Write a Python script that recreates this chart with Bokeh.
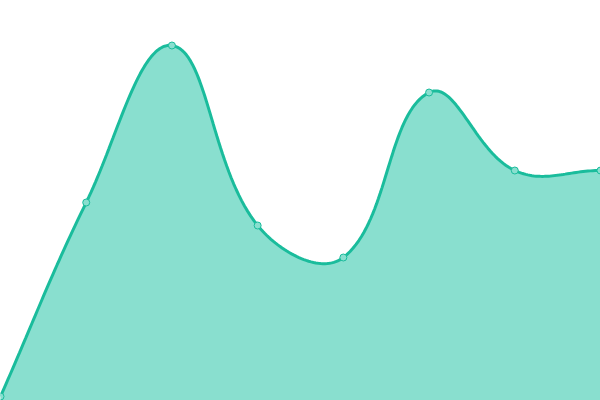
import numpy as np
from bokeh.plotting import figure
from bokeh.models import Range1d
from bokeh.embed import file_html
from bokeh.resources import INLINE

# data
xs = [0, 1, 2, 3, 4, 5, 6, 7]
values = [1.0, 49.5, 88.75, 43.75, 35.75, 77.0, 57.5, 57.5]

W, H = 600, 400
X_MIN, X_MAX = 0, 7
Y_MIN, Y_MAX = 0, 100
LINE = "#1abc9c"
FILL = "#89dfcf"

p = figure(width=W, height=H, output_backend="svg", toolbar_location=None,
           min_border=0, x_range=Range1d(X_MIN, X_MAX), y_range=Range1d(Y_MIN, Y_MAX))
p.axis.visible = False
p.grid.visible = False
p.outline_line_color = None
p.background_fill_color = "white"
p.border_fill_color = "white"

# Chart.js-style spline (tension 0.4), computed in screen-proportional units
sx = W / (X_MAX - X_MIN)
sy = H / (Y_MAX - Y_MIN)
P = np.array([[x * sx, v * sy] for x, v in zip(xs, values)])
n = len(P)
t = 0.4
cp_prev = P.copy()
cp_next = P.copy()
for i in range(n):
    prev = P[i - 1] if i > 0 else P[i]
    nxt = P[i + 1] if i < n - 1 else P[i]
    d01 = np.hypot(*(P[i] - prev))
    d12 = np.hypot(*(nxt - P[i]))
    tot = d01 + d12
    s01 = d01 / tot if tot else 0
    s12 = d12 / tot if tot else 0
    cp_prev[i] = P[i] - t * s01 * (nxt - prev)
    cp_next[i] = P[i] + t * s12 * (nxt - prev)
# cap control points in chart area
for arr in (cp_prev, cp_next):
    arr[:, 0] = np.clip(arr[:, 0], 0, W)
    arr[:, 1] = np.clip(arr[:, 1], 0, H)

cx, cy = [], []
ts = np.linspace(0, 1, 40)
for i in range(n - 1):
    a, b, c, d = P[i], cp_next[i], cp_prev[i + 1], P[i + 1]
    for k, u in enumerate(ts):
        if i > 0 and k == 0:
            continue
        pt = (1 - u) ** 3 * a + 3 * (1 - u) ** 2 * u * b + 3 * (1 - u) * u ** 2 * c + u ** 3 * d
        cx.append(pt[0] / sx + X_MIN)
        cy.append(pt[1] / sy + Y_MIN)

p.patch(cx + [cx[-1], cx[0]], cy + [Y_MIN, Y_MIN], fill_color=FILL, line_color=None)
p.line(cx, cy, line_color=LINE, line_width=3)
p.scatter(xs, values, marker="circle", size=7, fill_color=FILL, line_color=LINE, line_width=1)

html = file_html(p, INLINE)
html = html.replace("<body>", '<body style="margin:0;">', 1)
open("out.html", "w").write(html)
